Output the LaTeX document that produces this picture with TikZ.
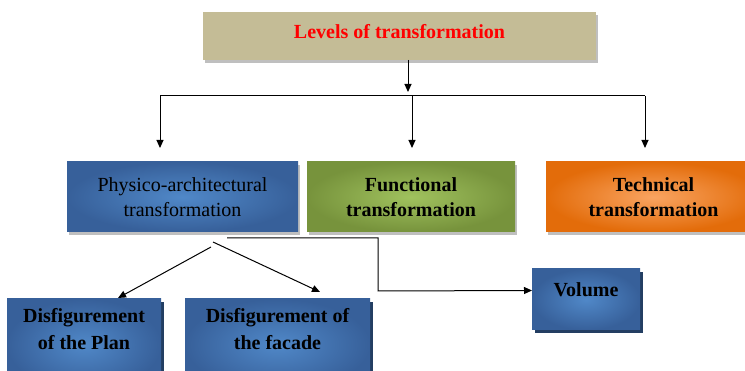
\documentclass[tikz,border=0pt]{standalone}
\usepackage{fontspec}
\setmainfont{Liberation Serif}
\usetikzlibrary{positioning}
\usetikzlibrary{shadows}
\usetikzlibrary{arrows.meta}
\definecolor{tanbox}{HTML}{C4BC96}
\definecolor{bluebox}{HTML}{37609A}
\definecolor{bluelite}{HTML}{5088C8}
\definecolor{blueshade}{HTML}{233E62}
\definecolor{greenbox}{HTML}{77933C}
\definecolor{greenlite}{HTML}{A0C25E}
\definecolor{orangebox}{HTML}{E36C0A}
\definecolor{orangelite}{HTML}{F9A461}
\tikzset{%
  arr/.style = {-{Triangle[width=7pt,length=8pt]},line width=1pt},
  link/.style = {line width=1pt},
  boxbase/.style = {rectangle,inner sep=0pt,outer sep=0pt,align=center,
        font=\fontsize{20}{25}\selectfont},
  grayshadow/.style = {general shadow={fill=black!25,shadow xshift=1.5pt,
        shadow yshift=-3.5pt}},
  darkshadow/.style = {general shadow={fill=blueshade,shadow xshift=3pt,
        shadow yshift=-3pt}},
  titlebox/.style = {boxbase,grayshadow,fill=tanbox,text=red,
        font=\fontsize{20}{25}\selectfont\bfseries,
        minimum width=393pt,minimum height=48pt,text depth=9pt},
  levelbox/.style = {boxbase,grayshadow,minimum height=70pt},
  subbox/.style = {boxbase,darkshadow,inner color=bluelite,outer color=bluebox,
        font=\fontsize{20}{27}\selectfont\bfseries}
}
\begin{document}
\begin{tikzpicture}[x=1pt,y=-1pt]
\useasboundingbox (0,0) rectangle (745,371);
\node[titlebox] (title) at (399.5,36) {Levels of transformation};

\node[levelbox,inner color=bluelite,outer color=bluebox,minimum width=231pt]
    (phys) at (182.5,197) {Physico-architectural\\transformation};
\node[levelbox,inner color=greenlite,outer color=greenbox,minimum width=208pt,
    font=\fontsize{20}{25}\selectfont\bfseries]
    (func) [right=9pt of phys] {Functional\\transformation};
\node[levelbox,inner color=orangelite,outer color=orangebox,minimum width=215pt,
    font=\fontsize{20}{25}\selectfont\bfseries]
    (tech) [right=31pt of func] {Technical\\transformation};

\node[subbox,anchor=north,minimum width=108pt,text height=28pt,text depth=33pt]
    (vol) at (586,269) {Volume};
\node[subbox,anchor=north,minimum width=154pt,text height=51pt,text depth=40pt]
    (plan) at (84,299) {Disfigurement\\of the Plan};
\node[subbox,minimum width=185pt,text height=51pt,text depth=40pt]
    (face) [right=24pt of plan] {Disfigurement of\\the facade};

% bus under the title
\coordinate (busL) at (160,96);
\coordinate (busT) at (408,96);
\coordinate (busM) at (412,96);
\coordinate (busR) at (645,96);
\draw[arr,shorten >=4pt] (title.south -| busT) -- (busT);
\draw[link] (busL) -- (busR);
\draw[arr,shorten >=14pt] (busL) -- (busL |- phys.north);
\draw[arr,shorten >=14pt] (busM) -- (busM |- func.north);
\draw[arr,shorten >=14pt] (busR) -- (busR |- tech.north);

% branches of the first level
\coordinate (forkL) at (211,247);
\coordinate (forkR) at (213,242);
\coordinate (volout) at (227,238);
\coordinate (volbend) at (378,291);
\draw[arr] (forkL) -- ([xshift=34pt,yshift=1pt]plan.north);
\draw[arr] (forkR) -- ([xshift=42.5pt,yshift=7pt]face.north);
\draw[arr] (volout) -| (volbend) -- ([yshift=9pt]vol.west);
\end{tikzpicture}
\end{document}
